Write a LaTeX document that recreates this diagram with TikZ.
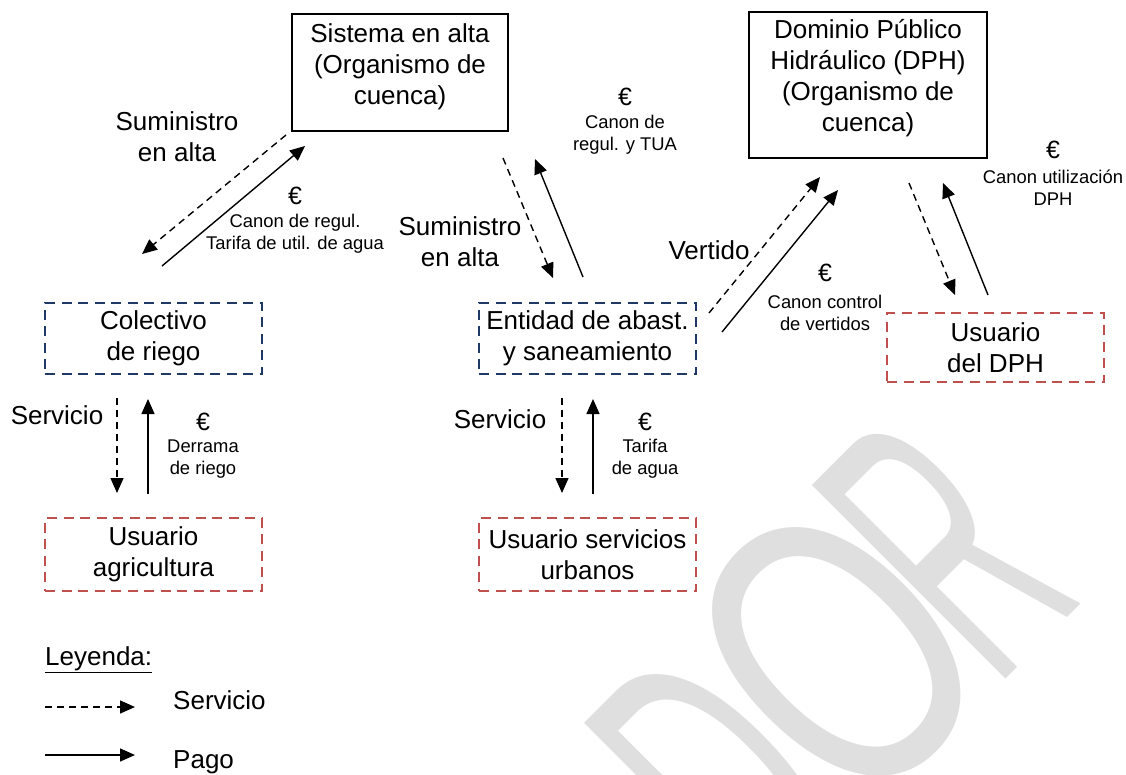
\documentclass[tikz,border=0pt]{standalone}
\usepackage{fontspec}
\setmainfont{Liberation Sans}
\usetikzlibrary{arrows.meta}
\definecolor{navyc}{HTML}{1F3864}
\definecolor{redc}{HTML}{C0504D}
\definecolor{wmark}{HTML}{DFDFDF}
\begin{document}
\begin{tikzpicture}[x=1pt,y=-1pt,
  base/.style={font=\fontsize{26}{31}\selectfont, align=center, inner sep=0pt},
  small/.style={font=\fontsize{18.4}{22}\selectfont, align=center, inner sep=0pt},
  euro/.style={font=\fontsize{25}{28}\selectfont, inner sep=0pt},
  solidbox/.style={draw=black, line width=1.6pt, inner sep=0pt},
  bluebox/.style={base, draw=navyc, line width=2.6pt, dash pattern=on 10pt off 6.5pt},
  redbox/.style={base, draw=redc, line width=2.6pt, dash pattern=on 10pt off 6.5pt},
  pay/.style={line width=1.4pt, -{Triangle[length=15pt,width=13pt]}},
  serv/.style={pay, dash pattern=on 7pt off 5pt},
  wm/.style={font=\fontsize{398}{398}\selectfont, text=wmark, rotate=45, inner sep=0pt}
]
\useasboundingbox (0,0) rectangle (1126,774);
\begin{scope}
\clip (0,0) rectangle (1126,774);
\node[wm] (wmd) at (720,781) {\scalebox{0.5}[1]{D}};
\node[wm] (wmo) at (837,652) {\scalebox{0.7}[1]{O}};
\node[wm] (wmr) at (944.6,547) {\scalebox{0.45}[1]{R}};
\end{scope}

% boxes
\node[solidbox, minimum width=216pt, minimum height=117pt] (sis) at (400,72.5) {};
\node[base] (sistxt) at ([yshift=5.5pt]sis.center) {Sistema en alta\\(Organismo de\\cuenca)};
\node[solidbox, minimum width=238pt, minimum height=146pt] (dph) at (868,85) {};
\node[base] (dphtxt) at ([yshift=6.5pt]dph.center) {Dominio Público\\Hidráulico (DPH)\\(Organismo de\\cuenca)};
\node[bluebox, minimum width=217pt, minimum height=71pt] (col) at (153.5,338.5) {Colectivo\\de riego};
\node[bluebox, minimum width=217pt, minimum height=71pt] (ent) at (587.5,338.5) {Entidad de abast.\\y saneamiento};
\node[redbox, minimum width=217pt, minimum height=73pt] (uag) at (153.5,554.5) {Usuario\\agricultura};
\node[redbox, minimum width=217pt, minimum height=73pt] (uur) at (587.5,554.5) {Usuario servicios\\urbanos};
\node[redbox, minimum width=217pt, minimum height=69pt] (udp) at (995.5,347.5) {Usuario\\del DPH};

% arrow end points
\coordinate (a1s) at (286,135); \coordinate (a1e) at (142,254);
\coordinate (b1s) at (162,266); \coordinate (b1e) at (305,146);
\coordinate (a2s) at (503,158); \coordinate (a2e) at (553,278);
\coordinate (b2s) at (583,277); \coordinate (b2e) at (535,159);
\coordinate (a3s) at (709,313); \coordinate (a3e) at (820,177);
\coordinate (b3s) at (722,332); \coordinate (b3e) at (838,190);
\coordinate (a4s) at (909,183); \coordinate (a4e) at (955,295);
\coordinate (b4s) at (988,295); \coordinate (b4e) at (943,183);
\coordinate (a5s) at (117,398); \coordinate (a5e) at (117,493);
\coordinate (b5s) at (148,494); \coordinate (b5e) at (148,399);
\coordinate (a6s) at (562,398); \coordinate (a6e) at (562,493);
\coordinate (b6s) at (593,494); \coordinate (b6e) at (593,399);

\draw[serv] (a1s) -- (a1e);
\draw[pay] (b1s) -- (b1e);
\draw[serv] (a2s) -- (a2e);
\draw[pay] (b2s) -- (b2e);
\draw[serv] (a3s) -- (a3e);
\draw[pay] (b3s) -- (b3e);
\draw[serv] (a4s) -- (a4e);
\draw[pay] (b4s) -- (b4e);
\draw[serv] (a5s) -- (a5e);
\draw[pay] (b5s) -- (b5e);
\draw[serv] (a6s) -- (a6e);
\draw[pay] (b6s) -- (b6e);

% labels
\node[base] (sum1) at (177,137) {Suministro\\en alta};
\node[euro] (e1) at (295,196) {€};
\node[small] (c1) at (295,234) {Canon de regul.\\Tarifa de util. de agua};
\node[euro] (e2) at (625,97) {€};
\node[small] (c2) at (625,134.5) {Canon de\\regul. y TUA};
\node[base] (sum2) at (460,242) {Suministro\\en alta};
\node[base, anchor=base] (vert) at (709,259) {Vertido};
\node[euro] (e3) at (825,273) {€};
\node[small] (c3) at (825,313) {Canon control\\de vertidos};
\node[euro] (e4) at (1053,150) {€};
\node[small] (c4) at (1053,188) {Canon utilización\\DPH};
\node[base, anchor=base] (sv1) at (57,424) {Servicio};
\node[euro] (e5) at (203,422) {€};
\node[small] (c5) at (203,459) {Derrama\\de riego};
\node[base, anchor=base] (sv2) at (500,428) {Servicio};
\node[euro] (e6) at (645,422) {€};
\node[small] (c6) at (645,459) {Tarifa\\de agua};

% legend
\node[base, anchor=base west] (leg) at (45,665) {\underline{Leyenda:}};
\coordinate (l1s) at (45,707); \coordinate (l1e) at (135,707);
\coordinate (l2s) at (45,755); \coordinate (l2e) at (135,755);
\draw[serv] (l1s) -- (l1e);
\draw[pay] (l2s) -- (l2e);
\node[base, anchor=base west] (lsv) at (173,709) {Servicio};
\node[base, anchor=base west] (lpg) at (173,768) {Pago};
\end{tikzpicture}
\end{document}
